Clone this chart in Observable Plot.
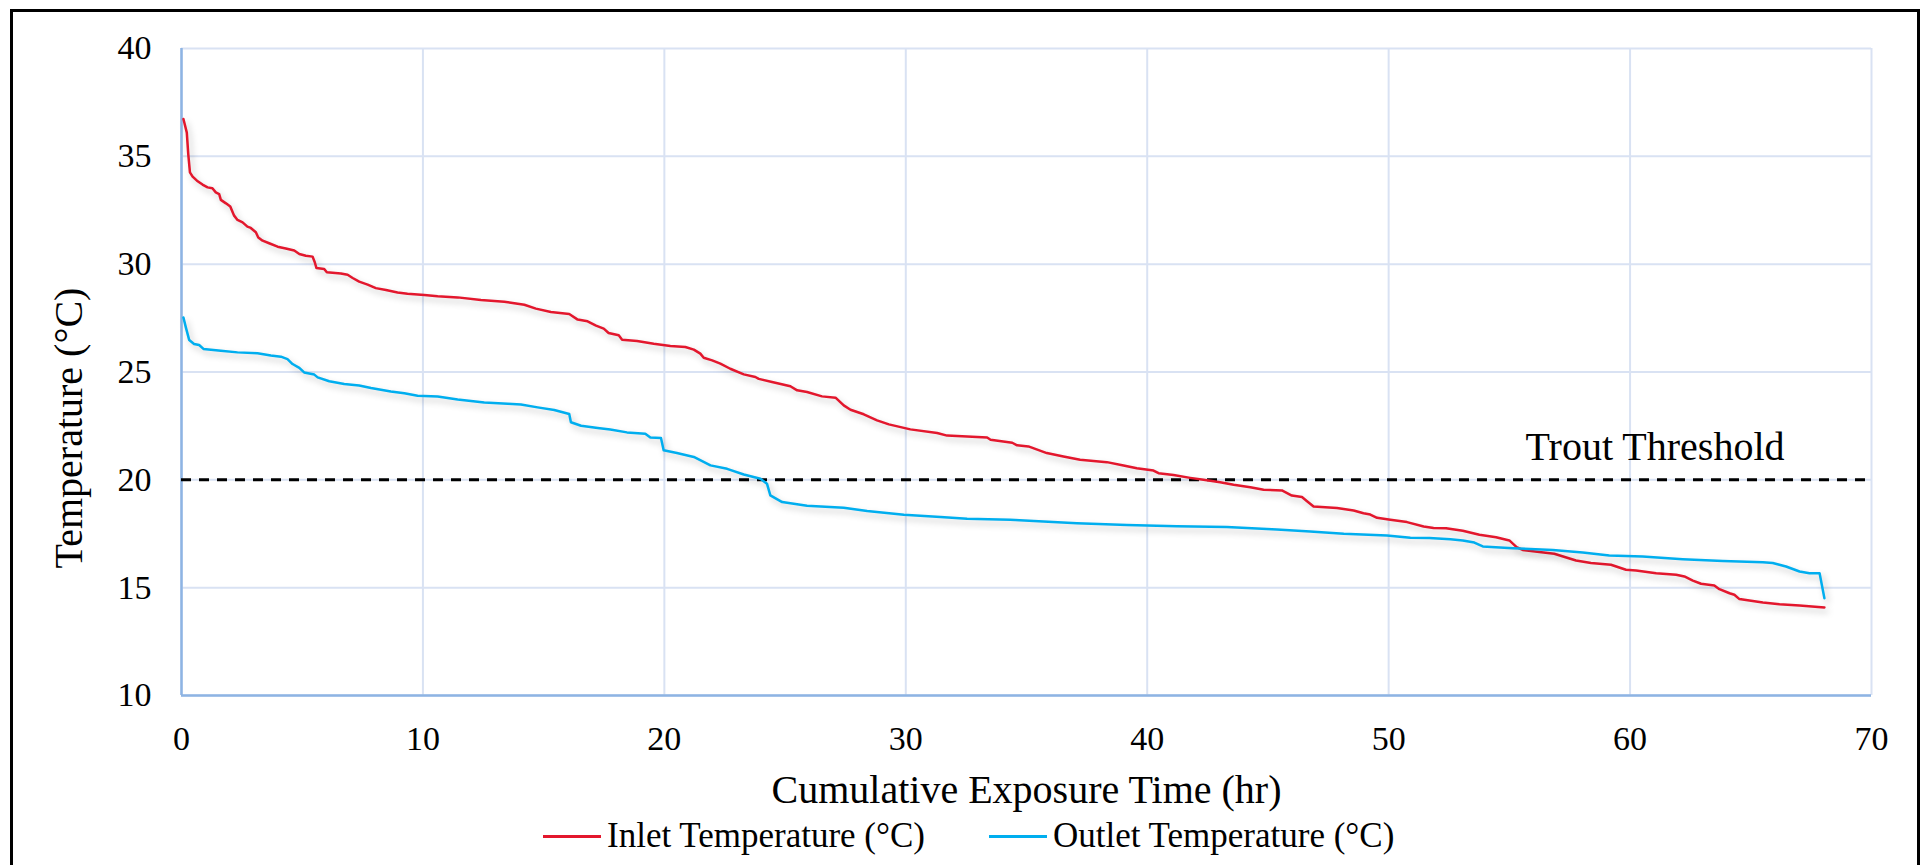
<!DOCTYPE html>
<html>
<head>
<meta charset="utf-8">
<script src="https://cdn.jsdelivr.net/npm/d3@7"></script>
<script src="https://cdn.jsdelivr.net/npm/@observablehq/plot@0.6"></script>
<style>
  html, body { margin: 0; padding: 0; background: #fff; }
  #page { position: relative; width: 1927px; height: 865px; overflow: hidden; background: #fff; font-family: "Liberation Serif", "Times New Roman", serif; }
  #frame { position: absolute; left: 10px; top: 9px; width: 1910px; height: 1000px; border: 3px solid #000; box-sizing: border-box; pointer-events: none; }
  #chart { position: absolute; left: 0; top: 0; }
  #chart svg text { font-family: "Liberation Serif", "Times New Roman", serif; }
  #legend { position: absolute; left: 543px; top: 816px; height: 40px; display: flex; align-items: center; font-size: 35px; line-height: 40px; color: #000; }
  .item { display: flex; align-items: center; }
  .item + .item { margin-left: 64px; }
  .sw { width: 58px; height: 3px; margin-right: 6px; }
</style>
</head>
<body>
<div id="page">
  <div id="chart"></div>
  <div id="legend"></div>
  <div id="frame"></div>
</div>
<script>
// ---- data ----
const xTicks = [0, 10, 20, 30, 40, 50, 60, 70];
const yTicks = [10, 15, 20, 25, 30, 35, 40];
const xTitle = "Cumulative Exposure Time (hr)";
const yTitle = "Temperature (°C)";
const seriesNames = ["Inlet Temperature (°C)", "Outlet Temperature (°C)"];
const thresholdValue = 20;
const thresholdLabel = "Trout Threshold";

const inletHours = [0.08,0.22,0.28,0.35,0.46,0.64,0.87,1.08,1.28,1.42,1.56,1.63,1.84,2.02,2.18,2.32,2.53,2.73,2.87,3.08,3.18,3.36,3.63,3.98,4.32,4.67,4.88,5.15,5.43,5.52,5.59,5.91,6.02,6.60,6.88,7.09,7.36,7.71,8.05,8.47,8.95,9.36,10.06,10.61,11.44,12.40,13.37,14.20,14.68,15.30,16.06,16.41,16.82,17.17,17.49,17.69,18.11,18.25,18.87,19.56,20.25,20.87,21.22,21.49,21.63,21.98,22.32,22.73,23.29,23.77,23.91,24.46,25.22,25.50,25.91,26.53,27.09,27.43,27.71,28.26,28.81,29.30,30.19,31.30,31.71,33.37,33.51,34.41,34.61,35.08,35.84,36.53,37.22,38.33,39.02,39.57,40.26,40.47,41.09,41.78,42.33,43.02,43.58,44.27,44.82,45.58,45.99,46.41,46.62,46.89,47.86,48.55,48.96,49.24,49.52,50.07,50.76,51.45,51.86,52.38,53.07,53.76,54.45,55.00,55.30,55.55,56.24,56.86,57.76,58.38,59.21,59.83,60.25,61.08,61.91,62.25,62.60,62.94,63.49,63.70,64.12,64.32,64.53,64.94,65.50,66.19,67.02,68.05];
const inletTemp = [36.73,36.10,35.10,34.26,34.06,33.87,33.69,33.56,33.52,33.33,33.25,32.98,32.82,32.67,32.25,32.05,31.94,31.74,31.68,31.48,31.24,31.09,30.97,30.81,30.73,30.63,30.47,30.39,30.35,30.09,29.82,29.78,29.62,29.57,29.51,29.36,29.19,29.05,28.89,28.80,28.69,28.63,28.57,28.51,28.46,28.34,28.26,28.12,27.94,27.78,27.69,27.43,27.35,27.15,27.01,26.81,26.70,26.50,26.44,26.31,26.21,26.16,26.04,25.85,25.66,25.54,25.39,25.15,24.89,24.77,24.68,24.54,24.34,24.15,24.07,23.87,23.81,23.45,23.25,23.04,22.76,22.57,22.34,22.17,22.05,21.96,21.86,21.72,21.60,21.55,21.24,21.08,20.93,20.82,20.66,20.54,20.43,20.31,20.22,20.09,20.00,19.89,19.77,19.66,19.54,19.51,19.27,19.20,19.01,18.76,18.69,18.58,18.45,18.39,18.24,18.15,18.04,17.84,17.77,17.76,17.64,17.45,17.34,17.19,16.88,16.75,16.65,16.57,16.26,16.14,16.06,15.83,15.80,15.67,15.60,15.52,15.33,15.18,15.10,14.93,14.74,14.67,14.47,14.40,14.31,14.23,14.17,14.08];

const outletHours = [0.08,0.18,0.32,0.52,0.73,0.91,1.63,2.32,3.15,3.70,4.12,4.39,4.60,4.88,5.08,5.50,5.64,6.12,6.74,7.36,7.85,8.67,9.23,9.78,10.61,11.44,12.54,14.06,14.75,15.44,16.06,16.13,16.55,17.24,17.76,18.45,19.21,19.42,19.86,19.97,20.52,21.22,21.91,22.60,23.29,23.98,24.25,24.39,24.88,25.91,27.43,28.40,29.92,31.44,32.54,34.32,35.70,37.09,39.16,41.23,43.30,45.37,46.75,48.14,49.93,50.90,51.69,52.56,53.07,53.55,53.90,55.14,56.80,58.04,59.14,60.52,62.18,63.84,65.50,65.91,66.46,67.02,67.43,67.85,68.05];
const outletTemp = [27.53,27.07,26.48,26.30,26.25,26.07,25.99,25.91,25.87,25.77,25.71,25.60,25.37,25.19,24.98,24.88,24.75,24.57,24.44,24.37,24.26,24.10,24.01,23.90,23.86,23.73,23.59,23.49,23.36,23.24,23.05,22.67,22.51,22.40,22.33,22.20,22.14,21.96,21.94,21.37,21.24,21.06,20.67,20.51,20.25,20.05,19.82,19.28,18.97,18.80,18.71,18.55,18.38,18.28,18.20,18.15,18.07,17.99,17.91,17.85,17.81,17.70,17.60,17.50,17.42,17.31,17.30,17.24,17.19,17.09,16.91,16.83,16.75,16.63,16.49,16.44,16.32,16.24,16.18,16.14,15.98,15.75,15.67,15.67,14.51];

const seriesColors = ["#e3172d", "#00aeef"];

// ---- build ----
const inlet = inletHours.map((h, i) => ({hours: h, temp: inletTemp[i]}));
const outlet = outletHours.map((h, i) => ({hours: h, temp: outletTemp[i]}));

const W = 1927, H = 815;
const gridColor = "#d9e2f3";
const axisColor = "#8eb4e3";
const serif = "'Liberation Serif', 'Times New Roman', serif";

const chart = Plot.plot({
  width: W,
  height: H,
  marginLeft: 181,
  marginRight: 56,
  marginTop: 48,
  marginBottom: H - 695,
  x: {domain: [xTicks[0], xTicks[xTicks.length - 1]]},
  y: {domain: [yTicks[0], yTicks[yTicks.length - 1]]},
  style: {fontFamily: serif, color: "#000", background: "transparent", overflow: "visible"},
  marks: [
    Plot.gridX(xTicks, {stroke: gridColor, strokeOpacity: 1, strokeWidth: 2}),
    Plot.gridY(yTicks, {stroke: gridColor, strokeOpacity: 1, strokeWidth: 2}),
    Plot.ruleX([xTicks[0]], {stroke: axisColor, strokeWidth: 2.5}),
    Plot.ruleY([yTicks[0]], {stroke: axisColor, strokeWidth: 2.5}),
    Plot.axisX(xTicks, {tickSize: 0, tickPadding: 30, fontSize: 34, fontFamily: serif, fontVariant: "normal", label: null}),
    Plot.axisY(yTicks, {tickSize: 0, tickPadding: 30, fontSize: 34, fontFamily: serif, fontVariant: "normal", label: null}),
    Plot.ruleY([thresholdValue], {stroke: "#000", strokeWidth: 3, strokeDasharray: "10,8"}),
    Plot.text([{label: thresholdLabel, value: thresholdValue}], {
      y: "value", text: "label", frameAnchor: "right", textAnchor: "end",
      lineAnchor: "bottom", dx: -87, dy: -20, fontSize: 40, fontFamily: serif
    }),
    Plot.line(inlet, {x: "hours", y: "temp", stroke: seriesColors[0], strokeWidth: 2.5}),
    Plot.line(outlet, {x: "hours", y: "temp", stroke: seriesColors[1], strokeWidth: 2.5}),
    Plot.text([xTitle], {frameAnchor: "bottom", textAnchor: "middle", lineAnchor: "bottom", dy: 107, fontSize: 40, fontFamily: serif}),
    Plot.text([yTitle], {frameAnchor: "left", textAnchor: "middle", rotate: -90, lineAnchor: "bottom", dx: -100, dy: 56, fontSize: 40, fontFamily: serif})
  ]
});

chart.querySelectorAll('g[aria-label="line"] path').forEach(p => {
  p.style.filter = "drop-shadow(3px 4px 3px rgba(0,0,0,0.22))";
});

document.getElementById("chart").appendChild(chart);

// legend (HTML, below the chart's SVG)
const legend = document.getElementById("legend");
seriesNames.forEach((name, i) => {
  const item = document.createElement("div");
  item.className = "item";
  const sw = document.createElement("div");
  sw.className = "sw";
  sw.style.background = seriesColors[i];
  const t = document.createElement("span");
  t.textContent = name;
  item.appendChild(sw);
  item.appendChild(t);
  legend.appendChild(item);
});
</script>
</body>
</html>
